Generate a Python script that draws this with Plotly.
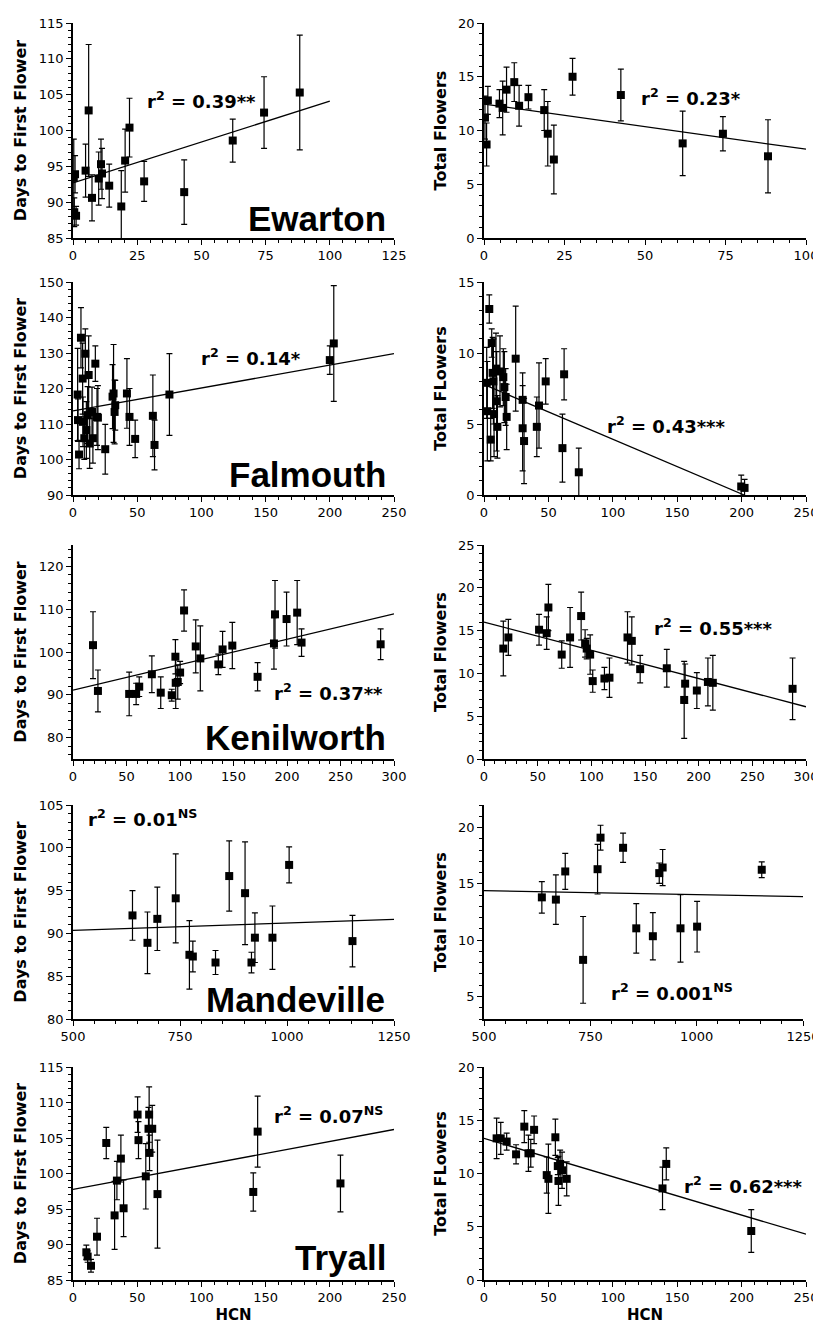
import plotly.graph_objects as go

# ---------------- data ----------------
# Ewarton
ew_d_hcn = [0.3, 0.8, 0.5, 1.2, 4.9, 6.1, 7.4, 10.0, 10.9, 11.3, 14.1, 18.8, 20.3, 22.0, 27.7, 43.3, 62.2, 74.4, 88.3]
ew_d_val = [93.4, 93.9, 88.6, 88.1, 94.4, 102.8, 90.6, 93.3, 95.3, 94.0, 92.3, 89.4, 95.8, 100.4, 92.9, 91.4, 98.6, 102.5, 105.3]
ew_d_err = [5.4, 2.6, 2.0, 1.3, 3.7, 9.2, 3.2, 3.7, 3.5, 3.5, 3.0, 5.0, 4.4, 4.1, 2.8, 4.5, 3.0, 5.0, 8.0]
ew_d_fit_x = [0, 100]
ew_d_fit_y = [92.7, 104.1]

ew_f_hcn = [0.3, 1.2, 0.8, 4.8, 5.8, 7.0, 9.4, 10.9, 13.8, 18.7, 19.8, 21.7, 27.5, 42.5, 61.7, 74.2, 88.2]
ew_f_val = [11.2, 12.8, 8.7, 12.5, 12.1, 13.8, 14.5, 12.3, 13.1, 11.9, 9.7, 7.3, 15.0, 13.3, 8.8, 9.7, 7.6]
ew_f_err = [2.0, 1.3, 2.0, 1.3, 2.5, 2.1, 1.8, 1.9, 1.1, 1.9, 3.0, 3.2, 1.7, 2.4, 3.0, 1.6, 3.4]
ew_f_fit_x = [0, 100]
ew_f_fit_y = [12.46, 8.26]

# Falmouth
fa_d_hcn = [3.6, 3.9, 4.7, 6.2, 7.5, 7.8, 8.8, 9.6, 10.4, 11.4, 12.2, 13.0, 14.8, 15.5, 17.4, 18.7, 19.4, 25.1,
            30.8, 31.6, 32.4, 32.9, 42.0, 44.0, 48.4, 62.2, 63.5, 75.1, 200.0, 203.1]
fa_d_val = [118.3, 111.1, 101.4, 134.3, 122.8, 110.6, 106.0, 129.8, 108.3, 112.5, 123.8, 104.5, 113.4, 106.0,
            127.0, 112.0, 111.8, 102.9, 117.7, 118.6, 113.4, 115.3, 118.6, 112.0, 105.8, 112.3, 104.1, 118.3,
            128.0, 132.7]
fa_d_err = [13.0, 6.0, 4.0, 8.5, 10.0, 7.0, 6.0, 7.0, 8.0, 8.0, 11.0, 7.0, 7.0, 7.0, 5.0, 8.0, 9.0, 7.0,
            9.0, 13.8, 9.0, 7.0, 9.8, 8.0, 5.3, 11.5, 7.0, 11.5, 4.0, 16.3]
fa_d_fit_x = [0, 250]
fa_d_fit_y = [113.7, 129.8]

fa_f_hcn = [2.1, 2.6, 4.1, 5.2, 6.0, 6.7, 7.3, 7.8, 9.3, 9.8, 10.4, 12.4, 15.0, 15.8, 16.8, 17.6, 24.6,
            30.0, 30.0, 31.1, 41.0, 42.7, 47.9, 60.9, 62.2, 73.6, 199.7, 202.3]
fa_f_val = [7.9, 5.9, 13.1, 3.9, 10.7, 8.6, 8.0, 5.7, 8.9, 6.6, 4.8, 8.7, 8.3, 7.6, 6.9, 5.5, 9.6,
            6.7, 4.7, 3.8, 4.8, 6.3, 8.0, 3.3, 8.5, 1.6, 0.6, 0.5]
fa_f_err = [2.5, 3.5, 1.0, 1.5, 1.0, 2.5, 3.0, 3.0, 2.5, 3.5, 2.2, 2.5, 2.0, 2.5, 2.0, 2.3, 3.7,
            1.9, 3.0, 3.0, 2.1, 3.0, 1.6, 2.4, 1.8, 1.7, 0.8, 0.6]
fa_f_fit_x = [0, 202]
fa_f_fit_y = [7.78, 0.0]

# Kenilworth
ke_d_hcn = [18.7, 23.3, 52.5, 59.0, 61.9, 73.7, 82.0, 92.3, 95.7, 96.0, 97.9, 100.1, 103.8, 114.7, 119.0,
            135.8, 139.8, 148.9, 172.5, 187.8, 188.8, 199.6, 209.5, 213.6, 287.5]
ke_d_val = [101.6, 90.9, 90.2, 90.2, 91.9, 94.8, 90.5, 89.9, 98.9, 92.8, 93.0, 95.2, 109.7, 101.3, 98.5,
            97.1, 100.6, 101.5, 94.2, 102.0, 108.8, 107.7, 109.2, 102.2, 101.8]
ke_d_err = [7.8, 4.9, 5.1, 2.5, 2.3, 4.3, 3.7, 1.4, 4.0, 6.0, 4.0, 2.6, 4.8, 6.2, 7.6,
            2.4, 4.2, 5.4, 3.3, 6.0, 7.9, 6.3, 7.5, 3.2, 3.6]
ke_d_fit_x = [0, 300]
ke_d_fit_y = [91.1, 108.9]

ke_f_hcn = [18.0, 22.7, 51.3, 58.4, 60.0, 72.4, 80.2, 90.5, 94.2, 95.7, 98.9, 101.3, 112.2, 116.9,
            133.7, 137.7, 145.5, 170.3, 186.5, 187.4, 198.3, 208.6, 213.2, 287.5]
ke_f_val = [12.9, 14.2, 15.1, 14.7, 17.7, 12.2, 14.2, 16.7, 13.5, 12.9, 12.2, 9.1, 9.4, 9.5,
            14.2, 13.8, 10.5, 10.6, 6.9, 8.8, 8.0, 9.0, 8.9, 8.2]
ke_f_err = [3.2, 2.1, 1.8, 1.9, 2.7, 1.6, 3.5, 2.8, 1.6, 1.2, 2.3, 1.3, 1.3, 2.3,
            3.0, 2.8, 1.6, 2.2, 4.5, 2.3, 2.1, 2.8, 3.2, 3.6]
ke_f_fit_x = [0, 300]
ke_f_fit_y = [16.0, 6.1]

# Mandeville
ma_d_hcn = [639, 674, 697, 740, 772, 780, 833, 865, 902, 917, 925, 966, 1005, 1153]
ma_d_val = [92.1, 88.9, 91.7, 94.1, 87.5, 87.3, 86.6, 96.7, 94.7, 86.6, 89.5, 89.5, 98.0, 89.1]
ma_d_err = [2.9, 3.6, 3.7, 5.2, 4.0, 1.8, 1.4, 4.1, 6.0, 1.2, 2.9, 3.7, 2.1, 3.0]
ma_d_fit_x = [500, 1250]
ma_d_fit_y = [90.35, 91.64]

ma_f_hcn = [636, 669, 691, 733, 767, 774, 827, 858, 897, 912, 920, 962, 1001, 1153]
ma_f_val = [13.8, 13.6, 16.1, 8.25, 16.3, 19.1, 18.2, 11.05, 10.35, 15.95, 16.45, 11.05, 11.2, 16.25]
ma_f_err = [1.4, 2.2, 1.6, 3.85, 2.2, 1.1, 1.3, 2.2, 2.1, 0.9, 1.6, 3.0, 2.25, 0.7]
ma_f_fit_x = [500, 1250]
ma_f_fit_y = [14.39, 13.86]

# Tryall
tr_d_hcn = [10.4, 11.4, 14.0, 18.7, 25.9, 32.4, 34.2, 37.3, 39.4, 50.3, 51.0, 56.7, 58.8, 59.3, 59.6,
            61.7, 65.8, 140.4, 143.8, 208.3]
tr_d_val = [88.9, 88.3, 87.0, 91.1, 104.3, 94.1, 99.0, 102.1, 95.1, 108.3, 104.7, 99.6, 106.3, 108.3, 102.9,
            106.3, 97.1, 97.4, 105.9, 98.6]
tr_d_err = [1.0, 0.8, 0.9, 2.6, 2.2, 4.8, 2.7, 3.3, 4.0, 2.5, 2.6, 4.6, 3.0, 3.9, 2.5,
            3.3, 7.6, 2.7, 5.0, 4.0]
tr_d_fit_x = [0, 250]
tr_d_fit_y = [97.75, 106.2]

tr_f_hcn = [9.8, 13.0, 17.6, 24.9, 31.3, 34.5, 36.3, 38.9, 48.7, 50.0, 55.4, 57.3, 57.8, 59.1, 60.6,
            64.2, 138.6, 141.5, 207.5]
tr_f_val = [13.3, 13.3, 13.0, 11.8, 14.4, 11.9, 11.9, 14.1, 9.85, 9.5, 13.4, 10.7, 9.3, 10.9, 10.3,
            9.5, 8.6, 10.9, 4.6]
tr_f_err = [1.9, 1.5, 0.8, 0.9, 1.5, 1.7, 1.3, 1.3, 1.7, 3.25, 1.7, 0.8, 2.3, 1.3, 1.7,
            1.6, 2.0, 1.5, 2.0]
tr_f_fit_x = [0, 250]
tr_f_fit_y = [13.3, 4.3]

site_names = ["Ewarton", "Falmouth", "Kenilworth", "Mandeville", "Tryall"]
r2_days = ["r<sup>2</sup> = 0.39**", "r<sup>2</sup> = 0.14*", "r<sup>2</sup> = 0.37**",
           "r<sup>2</sup> = 0.01<sup>NS</sup>", "r<sup>2</sup> = 0.07<sup>NS</sup>"]
r2_flowers = ["r<sup>2</sup> = 0.23*", "r<sup>2</sup> = 0.43***", "r<sup>2</sup> = 0.55***",
              "r<sup>2</sup> = 0.001<sup>NS</sup>", "r<sup>2</sup> = 0.62***"]
flower_titles = ["Total Flowers", "Total FLowers", "Total Flowers", "Total Flowers", "Total FLowers"]
days_title = "Days to First Flower"
x_title = "HCN"

# ---------------- layout helpers ----------------
PAGE_W, PAGE_H = 821, 1332
OFF = 8                      # default page body margin
W, H = PAGE_W - OFF, PAGE_H - 2 * OFF
FONT = "DejaVu Sans"
left_x = [73, 394]
right_x = [484, 806]
right_x_row4 = [484, 803]
rows_px = [(23, 238), (282, 495), (545, 759), (805, 1019), (1067, 1280)]


def fx_(px):
    return (px - OFF) / W


def fy_(py):
    return 1 - (py - OFF) / H


panels = [
    # (x, y, err, fitx, fity, xrange, xdtick, xminor, yrange, ydtick, yminor)
    (ew_d_hcn, ew_d_val, ew_d_err, ew_d_fit_x, ew_d_fit_y, [0, 125], 25, 5, [85, 115], 5, 1),
    (ew_f_hcn, ew_f_val, ew_f_err, ew_f_fit_x, ew_f_fit_y, [0, 100], 25, 5, [0, 20], 5, 1),
    (fa_d_hcn, fa_d_val, fa_d_err, fa_d_fit_x, fa_d_fit_y, [0, 250], 50, 10, [90, 150], 10, 2),
    (fa_f_hcn, fa_f_val, fa_f_err, fa_f_fit_x, fa_f_fit_y, [0, 250], 50, 10, [0, 15], 5, 1),
    (ke_d_hcn, ke_d_val, ke_d_err, ke_d_fit_x, ke_d_fit_y, [0, 300], 50, 10, [75, 125], 10, 2),
    (ke_f_hcn, ke_f_val, ke_f_err, ke_f_fit_x, ke_f_fit_y, [0, 300], 50, 10, [0, 25], 5, 1),
    (ma_d_hcn, ma_d_val, ma_d_err, ma_d_fit_x, ma_d_fit_y, [500, 1250], 250, 50, [80, 105], 5, 1),
    (ma_f_hcn, ma_f_val, ma_f_err, ma_f_fit_x, ma_f_fit_y, [500, 1250], 250, 50, [3, 22], 5, 1),
    (tr_d_hcn, tr_d_val, tr_d_err, tr_d_fit_x, tr_d_fit_y, [0, 250], 50, 10, [85, 115], 5, 1),
    (tr_f_hcn, tr_f_val, tr_f_err, tr_f_fit_x, tr_f_fit_y, [0, 250], 50, 10, [0, 20], 5, 1),
]

fig = go.Figure()
layout = {}
for i, (xs, ys, es, fx, fy, xr, xd, xm, yr, yd, ym) in enumerate(panels):
    n = i + 1
    sfx = "" if n == 1 else str(n)
    row, col = i // 2, i % 2
    if col == 0:
        xpx = left_x
    else:
        xpx = right_x_row4 if row == 3 else right_x
    top, bot = rows_px[row]
    fig.add_trace(go.Scatter(
        x=xs, y=ys, mode="markers",
        marker=dict(symbol="square", size=8, color="black"),
        error_y=dict(type="data", array=es, visible=True, color="black", thickness=1.2, width=3),
        xaxis="x" + sfx, yaxis="y" + sfx, showlegend=False, hoverinfo="x+y"))
    fig.add_trace(go.Scatter(
        x=fx, y=fy, mode="lines", line=dict(color="black", width=1.3),
        xaxis="x" + sfx, yaxis="y" + sfx, showlegend=False))
    common = dict(showline=True, linecolor="black", linewidth=1.5, ticks="outside", ticklen=5,
                  tickwidth=1, tickcolor="black", showgrid=False, zeroline=False, automargin=False,
                  ticklabeloverflow="allow",
                  tickfont=dict(family=FONT, size=13, color="black"))
    xa = dict(common, domain=[fx_(xpx[0]), fx_(xpx[1])], range=xr, dtick=xd, tick0=0,
              anchor="y" + sfx,
              minor=dict(dtick=xm, ticklen=3, ticks="outside", tickcolor="black", tickwidth=1, showgrid=False))
    if row == 4:
        xa["title"] = dict(text=x_title, standoff=24,
                           font=dict(family=FONT, size=15, color="black", weight="bold"))
    ya = dict(common, domain=[fy_(bot), fy_(top)], range=yr, dtick=yd, tick0=0,
              anchor="x" + sfx,
              minor=dict(dtick=ym, ticklen=3, ticks="outside", tickcolor="black", tickwidth=1, showgrid=False),
              title=dict(text=days_title if col == 0 else flower_titles[row], standoff=8,
                         font=dict(family=FONT, size=16, color="black", weight="bold")))
    layout["xaxis" + sfx] = xa
    layout["yaxis" + sfx] = ya

annotations = []


def px_ann(text, x, y, size, family, xanchor="center"):
    annotations.append(dict(text=text, x=fx_(x), y=fy_(y), xref="paper", yref="paper",
                            xanchor=xanchor, yanchor="middle", showarrow=False,
                            font=dict(family=family, size=size, color="black", weight="bold")))


r2_days_pos = [(201, 100), (251, 357), (328, 692), (142, 818), (328, 1115)]
r2_flow_pos = [(691, 97), (666, 425), (713, 627), (672, 992), (743, 1185)]
site_pos = [(388, 219), (388, 474), (388, 738), (387, 999), (388, 1257)]
for k in range(5):
    px_ann(r2_days[k], r2_days_pos[k][0], r2_days_pos[k][1], 18, FONT)
    px_ann(r2_flowers[k], r2_flow_pos[k][0], r2_flow_pos[k][1], 18, FONT)
    px_ann(site_names[k], site_pos[k][0], site_pos[k][1], 35, "Liberation Sans", xanchor="right")

fig.update_layout(width=W, height=H, margin=dict(l=0, r=0, t=0, b=0),
                  paper_bgcolor="white", plot_bgcolor="white", showlegend=False,
                  annotations=annotations, **layout)
fig.write_html("out.html")
